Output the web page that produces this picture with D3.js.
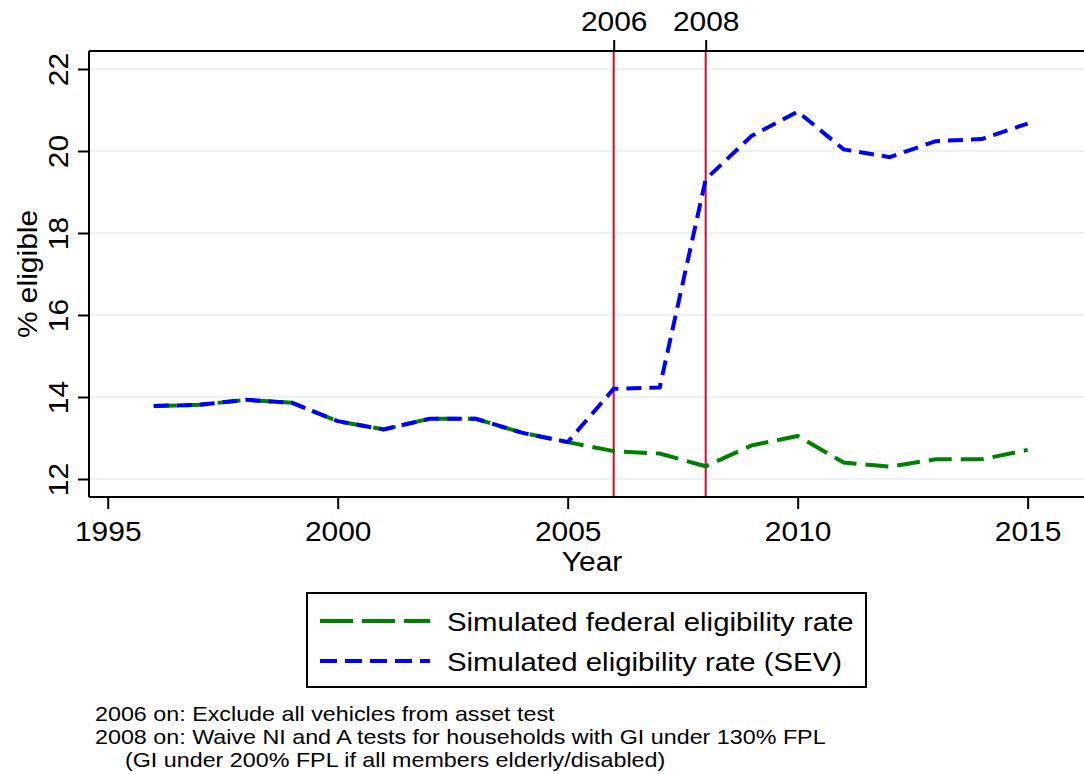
<!DOCTYPE html>
<html>
<head>
<meta charset="utf-8">
<script src="https://cdn.jsdelivr.net/npm/d3@7"></script>
<style>
  html, body { margin: 0; padding: 0; background: #fff; }
  svg { display: block; font-family: "Liberation Sans", Arial, sans-serif; }
</style>
</head>
<body>
<svg id="chart" width="1084" height="774"></svg>
<script>
// Simulated eligibility rates by year (percent)
const years = [1996, 1997, 1998, 1999, 2000, 2001, 2002, 2003, 2004, 2005,
               2006, 2007, 2008, 2009, 2010, 2011, 2012, 2013, 2014, 2015];
const federalRate = [13.78, 13.81, 13.93, 13.86, 13.41, 13.21, 13.47, 13.47, 13.13, 12.90,
                     12.68, 12.62, 12.31, 12.82, 13.05, 12.40, 12.30, 12.48, 12.48, 12.71];
const sevRate = [13.78, 13.81, 13.93, 13.86, 13.41, 13.21, 13.47, 13.47, 13.13, 12.90,
                 14.20, 14.23, 19.31, 20.37, 20.96, 20.04, 19.85, 20.24, 20.29, 20.67];

const yTicks = [12, 14, 16, 18, 20, 22];
const xTicks = [1995, 2000, 2005, 2010, 2015];
const policyYears = [2006, 2008];

const seriesNames = ["Simulated federal eligibility rate", "Simulated eligibility rate (SEV)"];
const footnotes = [
  "2006 on: Exclude all vehicles from asset test",
  "2008 on: Waive NI and A tests for households with GI under 130% FPL",
  "(GI under 200% FPL if all members elderly/disabled)"
];

const svg = d3.select("#chart");
const plot = { left: 89, right: 1110, top: 51, bottom: 497 };

const x = d3.scaleLinear().domain([1994.593, 2016.79]).range([plot.left, plot.right]);
const y = d3.scaleLinear().domain([11.561, 22.439]).range([plot.bottom, plot.top]);

const tickFont = 28;
const wide = 1.07;   // slightly widened glyphs for axis text

// horizontal grid lines
svg.append("g").selectAll("line").data(yTicks).join("line")
  .attr("x1", plot.left).attr("x2", plot.right)
  .attr("y1", d => y(d)).attr("y2", d => y(d))
  .attr("stroke", "#eaf2f3").attr("stroke-width", 2);

// y axis
const yAxis = svg.append("g").attr("transform", `translate(${plot.left},0)`)
  .call(d3.axisLeft(y).tickValues(yTicks).tickSize(11).tickSizeOuter(0).tickFormat(d3.format("d")));
yAxis.select(".domain").attr("stroke", "#000").attr("stroke-width", 2)
  .attr("d", `M0,${plot.top}V${plot.bottom}`);
yAxis.selectAll(".tick line").attr("stroke", "#000").attr("stroke-width", 2);
yAxis.selectAll(".tick text")
  .attr("x", null).attr("dy", null)
  .attr("transform", `translate(-21,0) rotate(-90) scale(${wide},1)`)
  .attr("text-anchor", "middle")
  .attr("font-size", tickFont).attr("fill", "#000");

// bottom x axis
const xAxis = svg.append("g").attr("transform", `translate(0,${plot.bottom})`)
  .call(d3.axisBottom(x).tickValues(xTicks).tickSize(12).tickSizeOuter(0).tickFormat(d3.format("d")));
xAxis.select(".domain").attr("stroke", "#000").attr("stroke-width", 2)
  .attr("d", `M${plot.left},0H${plot.right}`);
xAxis.selectAll(".tick line").attr("stroke", "#000").attr("stroke-width", 2);
xAxis.selectAll(".tick text").attr("y", 24).attr("font-size", tickFont).attr("fill", "#000")
  .attr("transform", `scale(${wide},1)`);

// top axis marking policy years
const topAxis = svg.append("g").attr("transform", `translate(0,${plot.top})`)
  .call(d3.axisTop(x).tickValues(policyYears).tickSize(11).tickSizeOuter(0).tickFormat(d3.format("d")));
topAxis.select(".domain").attr("stroke", "#000").attr("stroke-width", 2)
  .attr("d", `M${plot.left},0H${plot.right}`);
topAxis.selectAll(".tick line").attr("stroke", "#000").attr("stroke-width", 2);
topAxis.selectAll(".tick text").attr("y", -20).attr("font-size", tickFont).attr("fill", "#000")
  .attr("transform", `scale(${wide},1)`);

// vertical reference lines
svg.append("g").selectAll("line").data(policyYears).join("line")
  .attr("x1", d => x(d)).attr("x2", d => x(d))
  .attr("y1", plot.top + 1).attr("y2", plot.bottom - 1)
  .attr("stroke", "#c8102e").attr("stroke-width", 2);

// series lines
const line = d3.line().x((d, i) => x(years[i])).y(d => y(d));
svg.append("path").datum(federalRate)
  .attr("d", line).attr("fill", "none")
  .attr("stroke", "#008000").attr("stroke-width", 4)
  .attr("stroke-dasharray", "23,9");
svg.append("path").datum(sevRate)
  .attr("d", line).attr("fill", "none")
  .attr("stroke", "#0000ff").attr("stroke-width", 4)
  .attr("stroke-dasharray", "15,8");

// axis titles
svg.append("text").attr("transform", `translate(592,571) scale(${wide},1)`)
  .attr("text-anchor", "middle").attr("font-size", tickFont).text("Year");
svg.append("text")
  .attr("transform", `translate(37,${y(17)}) rotate(-90) scale(${wide},1)`)
  .attr("text-anchor", "middle").attr("font-size", tickFont).text("% eligible");

// legend
const legend = svg.append("g");
legend.append("rect").attr("x", 307).attr("y", 593).attr("width", 559).attr("height", 94)
  .attr("fill", "#fff").attr("stroke", "#000").attr("stroke-width", 2);
const legendStyles = [
  { color: "#008000", dash: "33,9" },
  { color: "#0000ff", dash: "17,8" }
];
seriesNames.forEach((name, i) => {
  const cy = 621 + i * 40;
  legend.append("line").attr("x1", 320).attr("x2", 430).attr("y1", cy).attr("y2", cy)
    .attr("stroke", legendStyles[i].color).attr("stroke-width", 4)
    .attr("stroke-dasharray", legendStyles[i].dash);
  legend.append("text").attr("transform", `translate(447,${cy + 10}) scale(1.13,1)`)
    .attr("font-size", 26).text(name);
});

// notes
footnotes.forEach((t, i) => {
  svg.append("text").attr("transform", `translate(${i === 2 ? 125 : 95},${721 + i * 23}) scale(1.165,1)`)
    .attr("font-size", 20).text(t);
});
</script>
</body>
</html>
